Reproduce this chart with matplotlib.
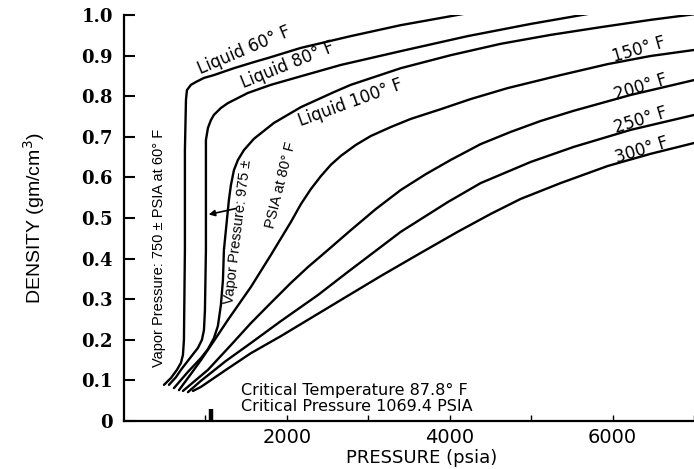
import matplotlib
matplotlib.use("Agg")
import matplotlib.pyplot as plt
from matplotlib.ticker import FixedLocator

# ---- data (pressure psia, density gm/cm3) ----
liq60_p = [491, 577, 650, 699, 724, 736, 748, 748, 761, 773, 822, 883, 982, 1104, 1350, 1595, 1767, 2172, 2785, 3399, 4233]
liq60_d = [0.089, 0.106, 0.126, 0.143, 0.163, 0.200, 0.421, 0.667, 0.791, 0.815, 0.828, 0.835, 0.845, 0.852, 0.869, 0.884, 0.894, 0.919, 0.948, 0.975, 1.005]

liq80_p = [552, 638, 699, 822, 908, 957, 982, 994, 1006, 1006, 1006, 1031, 1067, 1104, 1190, 1276, 1521, 1804, 2135, 2663, 3399, 4221, 4994, 5767]
liq80_d = [0.089, 0.108, 0.126, 0.158, 0.180, 0.200, 0.224, 0.273, 0.421, 0.618, 0.692, 0.722, 0.741, 0.754, 0.771, 0.783, 0.808, 0.828, 0.847, 0.877, 0.911, 0.948, 0.978, 1.005]

liq100_p = [613, 699, 785, 945, 1031, 1104, 1153, 1190, 1215, 1227, 1288, 1313, 1350, 1399, 1472, 1595, 1840, 2172, 2577, 2785, 3399, 4012, 4626, 5239, 5853, 6466, 7006]
liq100_d = [0.081, 0.101, 0.121, 0.155, 0.177, 0.204, 0.234, 0.286, 0.347, 0.421, 0.544, 0.581, 0.618, 0.643, 0.667, 0.695, 0.734, 0.773, 0.810, 0.828, 0.869, 0.901, 0.929, 0.951, 0.970, 0.988, 1.002]

t150_p = [675, 822, 945, 1104, 1276, 1558, 1804, 2049, 2172, 2294, 2417, 2540, 2663, 2847, 3031, 3276, 3521, 3890, 4258, 4712, 5362, 5939, 6466, 7006]
t150_d = [0.076, 0.116, 0.150, 0.197, 0.249, 0.330, 0.409, 0.490, 0.534, 0.571, 0.603, 0.631, 0.653, 0.680, 0.702, 0.724, 0.744, 0.768, 0.793, 0.820, 0.852, 0.879, 0.899, 0.914]

t200_p = [724, 883, 1031, 1313, 1558, 1804, 2049, 2258, 2503, 2785, 3092, 3399, 3706, 4012, 4380, 4748, 5117, 5521, 6221, 7006]
t200_d = [0.074, 0.101, 0.126, 0.187, 0.241, 0.291, 0.340, 0.379, 0.421, 0.470, 0.522, 0.569, 0.608, 0.643, 0.682, 0.712, 0.739, 0.764, 0.803, 0.840]

t250_p = [785, 945, 1252, 1558, 1926, 2380, 2748, 3399, 3975, 4380, 4994, 5521, 6221, 7006]
t250_d = [0.071, 0.099, 0.148, 0.192, 0.246, 0.310, 0.367, 0.466, 0.539, 0.586, 0.638, 0.675, 0.717, 0.754]

t300_p = [847, 945, 1252, 1558, 1926, 2663, 3153, 3644, 4098, 4503, 4871, 5362, 5939, 6466, 7006]
t300_d = [0.074, 0.084, 0.126, 0.167, 0.209, 0.298, 0.357, 0.414, 0.466, 0.510, 0.547, 0.586, 0.628, 0.658, 0.685]

curves = [(liq60_p, liq60_d), (liq80_p, liq80_d), (liq100_p, liq100_d),
          (t150_p, t150_d), (t200_p, t200_d), (t250_p, t250_d), (t300_p, t300_d)]

curve_labels = ["Liquid 60° F", "Liquid 80° F", "Liquid 100° F",
                "150° F", "200° F", "250° F", "300° F"]

y_ticks = [0, 0.1, 0.2, 0.3, 0.4, 0.5, 0.6, 0.7, 0.8, 0.9, 1.0]
y_ticklabels = ["0", "0.1", "0.2", "0.3", "0.4", "0.5", "0.6", "0.7", "0.8", "0.9", "1.0"]
x_major = [2000, 4000, 6000]
x_minor = [1000, 3000, 5000, 7000]

critical_pressure = 1069.4
critical_marker_height = 0.03

# ---- figure ----
fig = plt.figure(figsize=(6.94, 4.69), dpi=100)
ax = fig.add_axes([124/694, 1 - 421/469, 570/694, 406/469])
ax.set_xlim(0, 7000)
ax.set_ylim(0, 1.0)

for p, d in curves:
    ax.plot(p, d, color="black", lw=1.7, solid_capstyle="round", solid_joinstyle="round")

ax.plot([critical_pressure, critical_pressure], [0, critical_marker_height],
        color="black", lw=3.2, solid_capstyle="butt")

for s in ["top", "right"]:
    ax.spines[s].set_visible(False)
for s in ["left", "bottom"]:
    ax.spines[s].set_linewidth(1.6)

ax.set_yticks(y_ticks)
ax.set_yticklabels(y_ticklabels, fontfamily="DejaVu Serif", fontweight="bold", fontsize=13)
ax.tick_params(axis="y", direction="in", length=8, width=1.5, pad=8)

ax.xaxis.set_major_locator(FixedLocator(x_major))
ax.xaxis.set_minor_locator(FixedLocator(x_minor))
ax.set_xticklabels([str(v) for v in x_major], fontsize=14, fontfamily="DejaVu Sans")
ax.tick_params(axis="x", which="both", direction="in", length=4, width=1.0, pad=5)

ax.set_xlabel("PRESSURE (psia)", fontsize=13, fontfamily="DejaVu Sans")
ax.xaxis.set_label_coords(0.522, -0.07)
ax.set_ylabel("DENSITY (gm/cm$^3$)", fontsize=14, fontfamily="Liberation Sans")
ax.yaxis.set_label_coords(-0.135, 0.5)

# curve labels
label_pos = [(1472, 0.914, 23), (2012, 0.877, 22), (2785, 0.785, 20),
             (6319, 0.914, 16), (6344, 0.823, 17), (6344, 0.741, 17), (6356, 0.667, 17)]
for txt, (x, y, r) in zip(curve_labels, label_pos):
    ax.text(x, y, txt, rotation=r, rotation_mode="anchor", ha="center", va="center",
            fontsize=12, fontfamily="DejaVu Sans")

ax.text(429, 0.426, "Vapor Pressure: 750 ± PSIA at 60° F", rotation=90,
        ha="center", va="center", fontsize=10.5, fontfamily="Liberation Sans")
ax.text(1400, 0.466, "Vapor Pressure: 975 ±", rotation=83, rotation_mode="anchor",
        ha="center", va="center", fontsize=10.5, fontfamily="Liberation Sans")
ax.text(1926, 0.581, "PSIA at 80° F", rotation=76, rotation_mode="anchor",
        ha="center", va="center", fontsize=10.5, fontfamily="Liberation Sans")

ax.annotate("", xy=(1006, 0.507), xytext=(1411, 0.525),
            arrowprops=dict(arrowstyle="-|>", color="black", lw=1.2, mutation_scale=9))

ax.text(1436, 0.075, "Critical Temperature 87.8° F", ha="left", va="center",
        fontsize=11.5, fontfamily="DejaVu Sans")
ax.text(1436, 0.036, "Critical Pressure 1069.4 PSIA", ha="left", va="center",
        fontsize=11.5, fontfamily="DejaVu Sans")

fig.savefig("out.png", dpi=100)
